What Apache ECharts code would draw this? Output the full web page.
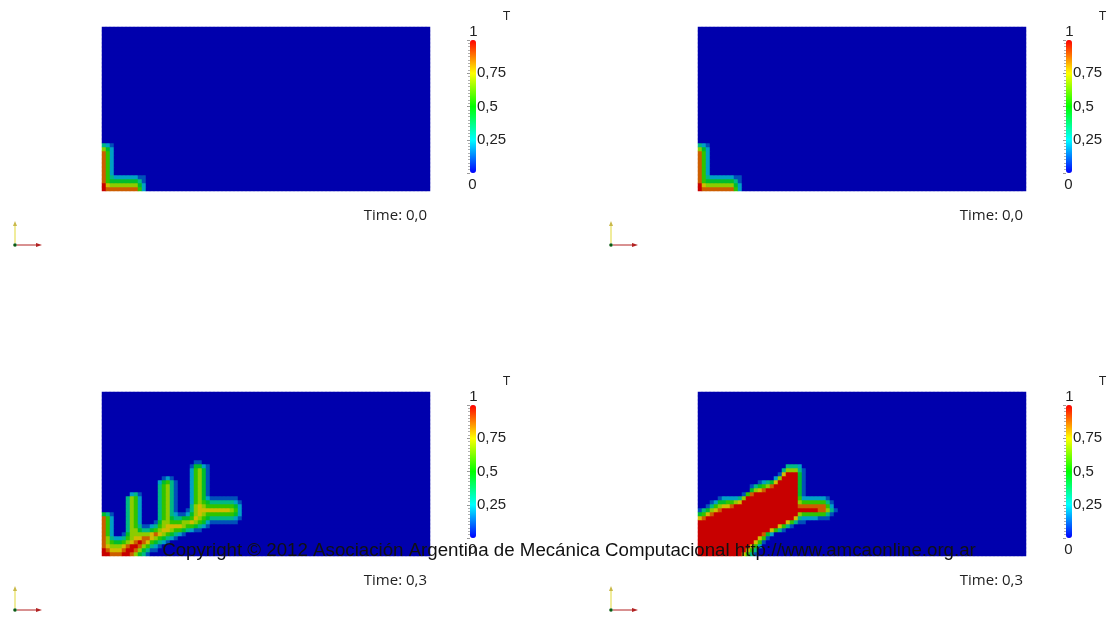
<!DOCTYPE html>
<html><head><meta charset="utf-8">
<script src="https://cdn.jsdelivr.net/npm/echarts/dist/echarts.min.js"></script>
<style>html,body{margin:0;padding:0;background:#fff}#c{width:1115px;height:617px}</style>
</head><body><div id="c"></div>
<script>
// ---------------- DATA ----------------
// Temperature field T on an 82 x 41 cell mesh, rows listed from the bottom (row 0) upward.
// Each digit d is T = d/9; cells not listed are T = 0 (blue).
const GRID_COLS = 82, GRID_ROWS = 41;
const fieldTime00 = [
  '98888888852',
  '97666666642',
  '85444444431',
  '85322222211',
  '852','852','852','852','852','852',
  '642',
  '321'
];
const fieldTime03Left = [
  '998889 986431',
  '987778 998643 11',
  '876667 899865 321',
  '865445 678987 54321',
  '863223 567788 765432 1',
  '852001 466666 787654 321',
  '852000 366433 456776 554321 1',
  '852000 365311 235677 776554 321',
  '852000 365200 014665 556676 542111 1111',
  '852000 365200 003564 334457 654333 333210',
  '431000 365200 003563 211246 765555 555420',
  '000000 365200 003563 100136 777777 776520',
  '000000 365200 003563 100036 765555 555420',
  '000000 365200 003563 100025 654333 333210',
  '000000 365200 003563 100025 642111 1111',
  '000000 023100 003563 100025 641',
  '000000 000000 003563 100025 641',
  '000000 000000 003563 100025 641',
  '000000 000000 002453 100025 641',
  '000000 000000 000121 000025 641',
  '000000 000000 000000 000025 641',
  '000000 000000 000000 000025 641',
  '000000 000000 000000 000014 421',
  '000000 000000 000000 000001 1'
];
const fieldTime03Right = [
  '999999 999997 531',
  '999999 999999 753',
  '999999 999999 9752',
  '999999 999999 99751',
  '999999 999999 999751',
  '999999 999999 999984 2',
  '999999 999999 999999 753100',
  '999999 999999 999999 997531',
  '999999 999999 999999 999975 311',
  '789999 999999 999999 999999 732222 111',
  '457899 999999 999999 999999 965555 5531',
  '134678 999999 999999 999999 999999 88631',
  '001356 778999 999999 999999 988888 8852',
  '000124 455679 999999 999999 965555 5531',
  '000001 222236 999999 999999 952222 221',
  '000000 000001 589999 999999 941',
  '000000 000000 046789 999999 941',
  '000000 000000 013456 899999 941',
  '000000 000000 000123 479999 941',
  '000000 000000 000000 026999 941',
  '000000 000000 000000 001799 941',
  '000000 000000 000000 000366 631',
  '000000 000000 000000 000033 32'
];
const panelFields = [fieldTime00, fieldTime00, fieldTime03Left, fieldTime03Right];
const timeLabels = ['Time: 0,0', 'Time: 0,0', 'Time: 0,3', 'Time: 0,3'];
const colorbarTitle = 'T';
const colorbarTicks = [0, 0.25, 0.5, 0.75, 1];
const colorbarLabels = ['0', '0,25', '0,5', '0,75', '1'];
const copyrightText = 'Copyright \u00a9 2012 Asociaci\u00f3n Argentina de Mec\u00e1nica Computacional http://www.amcaonline.org.ar';

// ---------------- STYLE / LAYOUT ----------------
const fieldColors = ['#0000ad', '#00b4c8', '#00c000', '#d2d200', '#c80000'];
const barColors = ['#0000ff', '#00ffff', '#00ff00', '#ffff00', '#ff0000'];
const offsets = [[0, 0], [596, 0], [0, 365], [596, 365]];
const G = {left: 102, top: 27, width: 328, height: 164};
const BAR = {left: 470, top: 40, width: 6, height: 133};

const colIdx = Array.from({length: GRID_COLS}, (_, i) => i);
const rowIdx = Array.from({length: GRID_ROWS}, (_, i) => i);

function buildField(rows) {
  const out = [];
  for (let r = 0; r < GRID_ROWS; r++) {
    const s = (rows[r] || '').replace(/ /g, '');
    for (let c = 0; c < GRID_COLS; c++) {
      const ch = s[c];
      out.push([c, r, ch ? (+ch) / 9 : 0]);
    }
  }
  return out;
}

const grid = [], xAxis = [], yAxis = [], series = [], visualMap = [], graphic = [];
panelFields.forEach((f, i) => {
  const [ox, oy] = offsets[i];
  grid.push({left: G.left + ox, top: G.top + oy, width: G.width, height: G.height});
  xAxis.push({type: 'category', gridIndex: i, data: colIdx, show: false});
  yAxis.push({type: 'category', gridIndex: i, data: rowIdx, show: false});
  series.push({
    type: 'heatmap', xAxisIndex: i, yAxisIndex: i, data: buildField(f),
    progressive: 0, emphasis: {disabled: true}, itemStyle: {borderWidth: 0}
  });
  visualMap.push({
    type: 'continuous', seriesIndex: i, min: 0, max: 1, orient: 'vertical',
    left: BAR.left + ox, top: BAR.top + oy, itemWidth: BAR.width, itemHeight: BAR.height,
    calculable: false, hoverLink: false, realtime: false, padding: 0, text: null, showLabel: false,
    inRange: {color: fieldColors},
    controller: {inRange: {color: barColors}}
  });
});
// colorbar tick axes, labels, titles, time stamps, orientation triads
panelFields.forEach((f, i) => {
  const [ox, oy] = offsets[i];
  const gi = 4 + i;
  grid.push({left: BAR.left + ox, top: BAR.top + oy, width: BAR.width, height: BAR.height});
  xAxis.push({type: 'value', gridIndex: gi, show: false, min: 0, max: 1});
  yAxis.push({
    type: 'value', gridIndex: gi, min: 0, max: 1, interval: 0.25, position: 'right',
    axisLine: {show: false}, splitLine: {show: false},
    axisTick: {show: true, inside: true, length: 3, lineStyle: {color: '#9a9a9a', width: 1}},
    minorTick: {show: true, splitNumber: 10, length: 2, lineStyle: {color: '#b0b0b0', width: 1}},
    axisLabel: {
      margin: 1, fontSize: 15, color: '#222', fontFamily: 'Liberation Sans',
      formatter: v => { const k = colorbarTicks.indexOf(v); return (k <= 0 || k === colorbarTicks.length - 1) ? '' : colorbarLabels[k]; }
    }
  });
  graphic.push({type: 'text', x: BAR.left + ox + 3.5, y: BAR.top + oy - 1, style: {text: colorbarLabels[colorbarLabels.length - 1], fontSize: 15, fontFamily: 'Liberation Sans', fill: '#222', align: 'center', verticalAlign: 'bottom'}});
  graphic.push({type: 'text', x: BAR.left + ox + 2.5, y: BAR.top + oy + BAR.height + 4, style: {text: colorbarLabels[0], fontSize: 15, fontFamily: 'Liberation Sans', fill: '#222', align: 'center', verticalAlign: 'top'}});
  graphic.push({type: 'text', x: 506.5 + ox, y: 16 + oy, style: {text: colorbarTitle, fontSize: 13, fontFamily: 'Open Sans', fill: '#222', align: 'center', verticalAlign: 'middle'}});
  graphic.push({type: 'text', x: 427 + ox, y: 216 + oy, style: {text: timeLabels[i], fontSize: 15, fontFamily: 'Open Sans', fill: '#222', align: 'right', verticalAlign: 'middle'}});
  const tx = 15 + ox, ty = 245 + oy;
  graphic.push({type: 'line', shape: {x1: tx, y1: ty - 2, x2: tx, y2: ty - 21}, style: {stroke: '#e6df5a', lineWidth: 1.2}});
  graphic.push({type: 'polygon', shape: {points: [[tx, ty - 24], [tx - 2, ty - 19], [tx + 2, ty - 19]]}, style: {fill: '#c9b94a'}});
  graphic.push({type: 'line', shape: {x1: tx + 2, y1: ty, x2: tx + 23, y2: ty}, style: {stroke: '#b22222', lineWidth: 1}});
  graphic.push({type: 'polygon', shape: {points: [[tx + 27, ty], [tx + 21, ty - 2], [tx + 21, ty + 2]]}, style: {fill: '#b22222'}});
  graphic.push({type: 'circle', shape: {cx: tx, cy: ty, r: 1.8}, style: {fill: '#0a5a14'}});
});
graphic.push({type: 'text', x: 569, y: 551, z: 100, style: {text: copyrightText, fontSize: 18.7, fontFamily: 'Liberation Sans', fill: '#111', align: 'center', verticalAlign: 'middle'}});

const chart = echarts.init(document.getElementById('c'), null, {renderer: 'canvas'});
chart.setOption({animation: false, backgroundColor: '#fff', grid, xAxis, yAxis, series, visualMap, graphic});
</script>
</body></html>
